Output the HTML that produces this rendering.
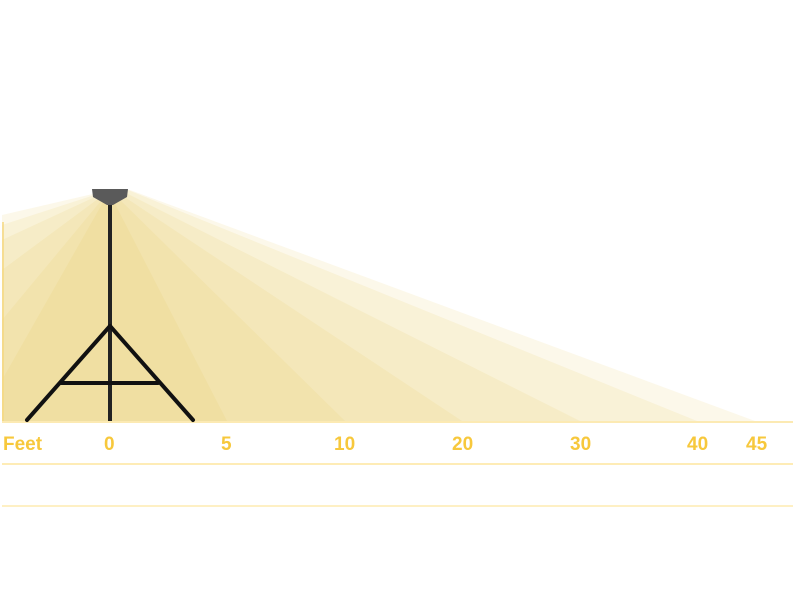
<!DOCTYPE html>
<html><head><style>
body{margin:0;background:#fff;width:800px;height:600px;overflow:hidden}
svg{display:block}
text{font-family:"Liberation Sans",sans-serif;font-size:19px;fill:#f7c83c;font-weight:bold}
</style></head><body>
<svg width="800" height="600" viewBox="0 0 800 600">
<g fill="#ebc65e" fill-opacity="0.13">
<polygon points="110,190 2,225 2,421 755,421 130,190"/>
<polygon points="110,190 2,215 2,421 697,421 128,190"/>
<polygon points="110,190 2,240 2,421 580,421 124,192"/>
<polygon points="110,190 2,270 2,421 462,421 120,194"/>
<polygon points="110,190 2,320 2,421 345,421 116,196"/>
<polygon points="110,190 2,380 2,421 227,421 112,198"/>
</g>
<line x1="3" y1="222" x2="3" y2="421" stroke="#f5d880" stroke-width="1.5"/>
<line x1="2" y1="422" x2="793" y2="422" stroke="#fbe39a" stroke-width="1.5"/>
<line x1="2" y1="464" x2="793" y2="464" stroke="#fde08a" stroke-width="1.2"/>
<line x1="2" y1="506" x2="793" y2="506" stroke="#fde6a0" stroke-width="1.2"/>
<polygon points="92,189 128,189 127,197 113,205 107,205 93,197" fill="#5a5a5a"/>
<line x1="110" y1="205" x2="110" y2="421" stroke="#222" stroke-width="4"/>
<g stroke="#111" stroke-width="4" stroke-linecap="round">
<line x1="110" y1="326" x2="27" y2="420"/>
<line x1="110" y1="326" x2="193" y2="420"/>
<line x1="61" y1="383" x2="158" y2="383"/>
</g>
<text x="3" y="450">Feet</text>
<text x="104" y="450">0</text>
<text x="221" y="450">5</text>
<text x="334" y="450">10</text>
<text x="452" y="450">20</text>
<text x="570" y="450">30</text>
<text x="687" y="450">40</text>
<text x="746" y="450">45</text>
</svg>
</body></html>
